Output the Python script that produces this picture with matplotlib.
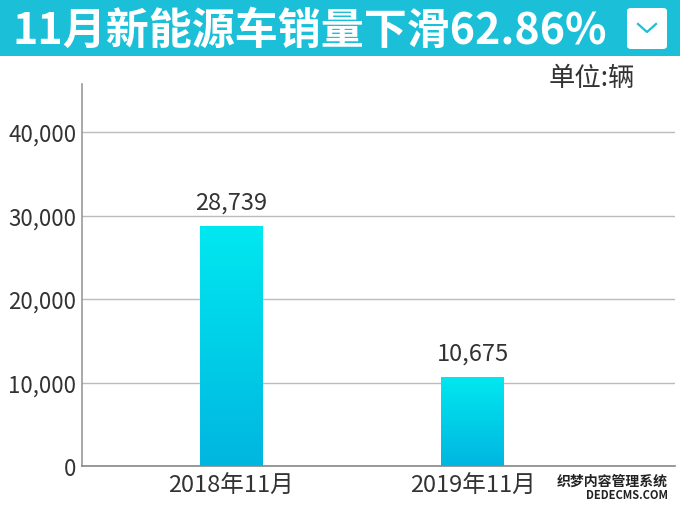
import matplotlib.pyplot as plt
import numpy as np
from matplotlib.colors import LinearSegmentedColormap
from matplotlib.patches import FancyBboxPatch

plt.rcParams['font.family'] = ['Noto Sans CJK SC', 'DejaVu Sans']

# 数据
categories = ['2018年11月', '2019年11月']
sales = [28739, 10675]
yticks = [0, 10000, 20000, 30000, 40000]
title = '11月新能源车销量下滑62.86%'
unit = '单位:辆'

fig = plt.figure(figsize=(6.8, 5.1), dpi=100)
W, H = 680, 510

# 顶部标题栏
band = fig.add_axes([0, 1 - 57 / H, 1, 57 / H])
band.set_axis_off()
band.add_patch(plt.Rectangle((0, 0), 1, 1, color='#1bbfd8', transform=band.transAxes))
fig.text(12 / W, 1 - 31 / H, title, color='white', fontsize=31, fontweight='bold',
         va='center', ha='left')

# 右上角按钮
btn = FancyBboxPatch((627 / W, 1 - 50 / H), 40 / W, 41 / H,
                     boxstyle='round,pad=0,rounding_size=0.006',
                     transform=fig.transFigure, fc='white', ec='none')
fig.patches.append(btn)
fig.lines.append(plt.Line2D([638 / W, 647 / W, 656 / W],
                            [1 - 25 / H, 1 - 33 / H, 1 - 25 / H],
                            transform=fig.transFigure, color='#1bbfd8', lw=1.6))

fig.text(635 / W, 1 - 79 / H, unit, fontsize=19, color='#333333', ha='right',
         va='center')

# 主图
ax = fig.add_axes([82 / W, 1 - 467 / H, (675 - 82) / W, (467 - 85) / H])
x = np.arange(len(categories))
ax.set_yticks(yticks)
ax.set_yticklabels([f'{v:,}' for v in yticks])
ax.set_xticks(x)
ax.set_xticklabels(categories)
ax.tick_params(axis='y', length=0, labelsize=16, colors='#333333', pad=4)
ax.tick_params(axis='x', length=0, labelsize=17, colors='#333333', pad=6)
ax.grid(axis='y', color='#bbbbbb', lw=1)
ax.set_axisbelow(True)
for s in ['top', 'right']:
    ax.spines[s].set_visible(False)
ax.spines['left'].set_color('#999999')
ax.spines['bottom'].set_color('#888888')
ax.spines['left'].set_linewidth(1.2)
ax.spines['bottom'].set_linewidth(1.2)

cmap = LinearSegmentedColormap.from_list('g', ['#00b6e0', '#00e8f0'])
grad = np.linspace(0, 1, 256).reshape(-1, 1)
bw = 0.26
bars = ax.bar(x, sales, width=bw, color='none')
for b, v in zip(bars, sales):
    x0 = b.get_x()
    im = ax.imshow(grad, cmap=cmap, origin='lower', aspect='auto',
                   extent=[x0, x0 + bw, 0, v], zorder=2)
    im.set_clip_path(b)
    ax.text(b.get_x() + bw / 2, v + 1500, f'{v:,}', ha='center', va='bottom',
            fontsize=17, color='#333333')
ax.set_xlim(-0.617, 1.838)
ax.set_ylim(0, 45750)

# 水印
fig.text(668 / W, 1 - 482 / H, '织梦内容管理系统', fontsize=10, fontweight='bold',
         color='#222222', ha='right', va='center')
fig.text(668 / W, 1 - 496 / H, 'DEDECMS.COM', fontsize=8, fontweight='bold',
         color='#222222', ha='right', va='center')

fig.savefig('out.png', dpi=100)
